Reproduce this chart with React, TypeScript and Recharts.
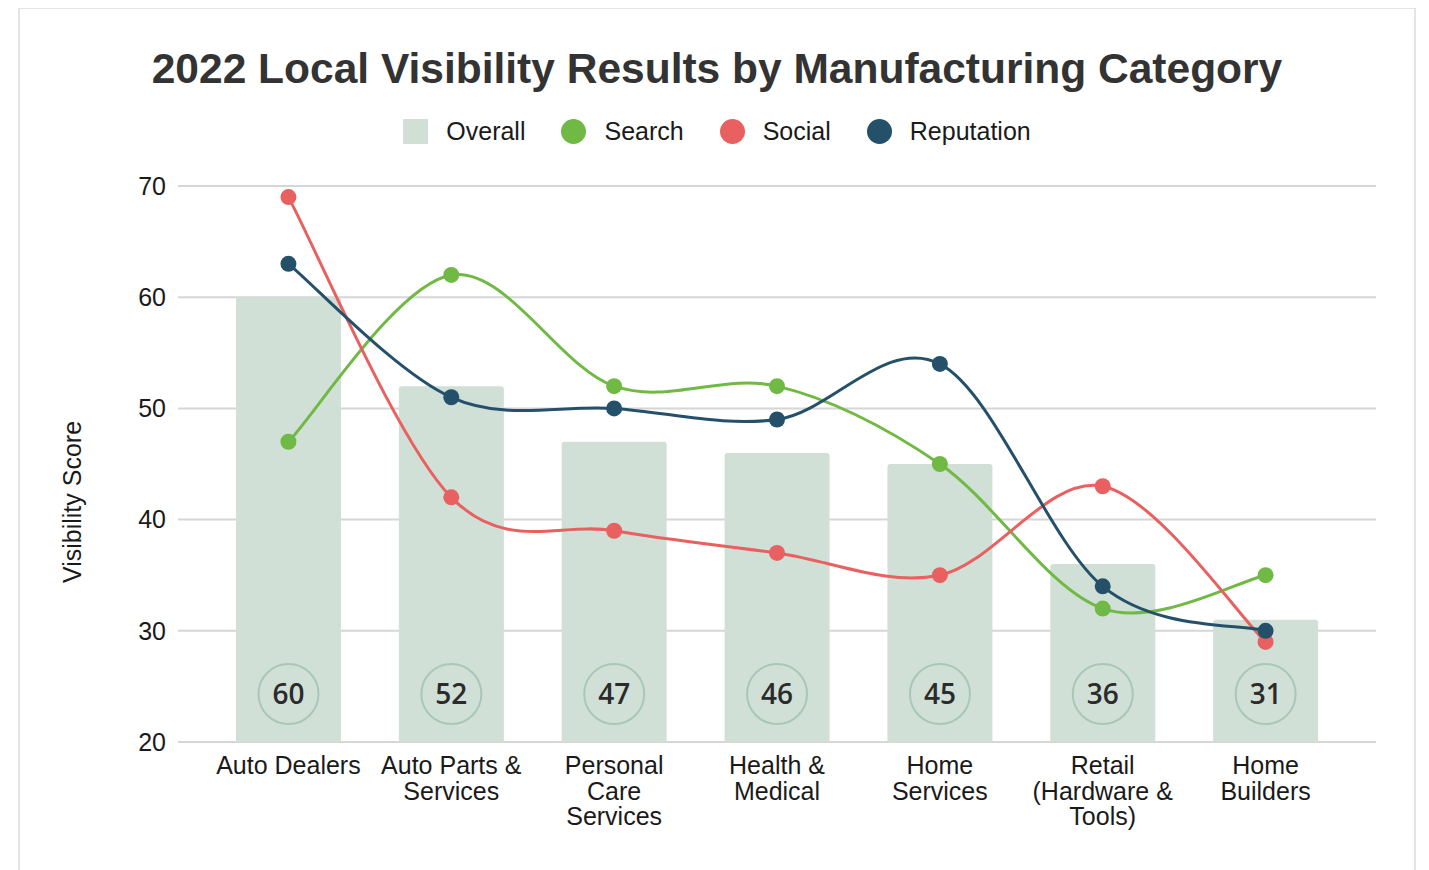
import {
  ComposedChart,
  Bar,
  Line,
  XAxis,
  YAxis,
  CartesianGrid,
  LabelList,
} from "recharts";

const categories = [
  "Auto Dealers",
  "Auto Parts &\nServices",
  "Personal\nCare\nServices",
  "Health &\nMedical",
  "Home\nServices",
  "Retail\n(Hardware &\nTools)",
  "Home\nBuilders",
];
const overall = [60, 52, 47, 46, 45, 36, 31];
const search = [47, 62, 52, 52, 45, 32, 35];
const social = [69, 42, 39, 37, 35, 43, 29];
const reputation = [63, 51, 50, 49, 54, 34, 30];
const yTicks = [20, 30, 40, 50, 60, 70];

const data = categories.map((name, i) => ({
  name,
  overall: overall[i],
  search: search[i],
  social: social[i],
  reputation: reputation[i],
}));

const FONT = "'Liberation Sans', Arial, sans-serif";
const BAR = "#d1e0d7";
const GREEN = "#70b944";
const RED = "#e8605f";
const NAVY = "#25506a";

const legendItems = [
  { label: "Overall", color: BAR, square: true },
  { label: "Search", color: GREEN },
  { label: "Social", color: RED },
  { label: "Reputation", color: NAVY },
];

// catmull-rom style smoothing, passes through every point
const smoothCurve = (context: any) => {
  let pts: number[][] = [];
  return {
    areaStart() {},
    areaEnd() {},
    lineStart() {
      pts = [];
    },
    point(x: number, y: number) {
      pts.push([+x, +y]);
    },
    lineEnd() {
      if (!pts.length) return;
      context.moveTo(pts[0][0], pts[0][1]);
      for (let i = 0; i < pts.length - 1; i++) {
        const p0 = pts[i - 1] || pts[i];
        const p1 = pts[i];
        const p2 = pts[i + 1];
        const p3 = pts[i + 2] || p2;
        context.bezierCurveTo(
          p1[0] + (p2[0] - p0[0]) / 6,
          p1[1] + (p2[1] - p0[1]) / 6,
          p2[0] - (p3[0] - p1[0]) / 6,
          p2[1] - (p3[1] - p1[1]) / 6,
          p2[0],
          p2[1]
        );
      }
    },
  };
};

const CategoryTick = (props: any) => {
  const { x, y, payload } = props;
  const lines = String(payload.value).split("\n");
  return (
    <text
      x={x}
      y={y}
      textAnchor="middle"
      fill="#1a1a1a"
      fontSize={25}
      fontFamily={FONT}
    >
      {lines.map((l, i) => (
        <tspan key={i} x={x} dy={i === 0 ? 32 : 25.5}>
          {l}
        </tspan>
      ))}
    </text>
  );
};

const BadgeLabel = (props: any) => {
  const { x, y, width, height, value } = props;
  const cx = x + width / 2;
  const cy = y + height - 48;
  return (
    <g>
      <circle cx={cx} cy={cy} r={30} fill="none" stroke="#a9c7b6" strokeWidth={2} />
      <text
        x={cx}
        y={cy + 10}
        textAnchor="middle"
        fontSize={28}
        fontWeight={600}
        fontFamily="'Open Sans', sans-serif"
        fill="#2b2b2b"
      >
        {value}
      </text>
    </g>
  );
};

const AxisTitle = (props: any) => {
  const { viewBox } = props;
  const x = viewBox.x + 33;
  const y = viewBox.y + viewBox.height / 2 + 38;
  return (
    <text
      x={x}
      y={y}
      transform={`rotate(-90, ${x}, ${y})`}
      textAnchor="middle"
      fontSize={25}
      fontFamily={FONT}
      fill="#1a1a1a"
    >
      Visibility Score
    </text>
  );
};

export default function App() {
  return (
    <div style={{ position: "relative", width: 1413, height: 862 }}>
      <div
        style={{
          position: "absolute",
          left: 10,
          top: -1,
          width: 1398,
          height: 900,
          border: "2px solid #e4e4e4",
          boxSizing: "border-box",
          background: "#fff",
          overflow: "hidden",
        }}
      >
        <div
          style={{
            position: "absolute",
            left: 0,
            right: 0,
            top: 36,
            textAlign: "center",
            fontFamily: FONT,
            fontWeight: 700,
            fontSize: 42.5,
            color: "#333",
            lineHeight: "48px",
          }}
        >
          2022 Local Visibility Results by Manufacturing Category
        </div>
        <div
          style={{
            position: "absolute",
            left: 0,
            right: 0,
            top: 108,
            display: "flex",
            justifyContent: "center",
            alignItems: "center",
            fontFamily: FONT,
            fontSize: 25,
            color: "#1a1a1a",
            gap: 36,
          }}
        >
          {legendItems.map((it) => (
            <div key={it.label} style={{ display: "flex", alignItems: "center", gap: 18 }}>
              <span
                style={{
                  display: "inline-block",
                  width: 25,
                  height: 25,
                  background: it.color,
                  borderRadius: it.square ? 1 : "50%",
                }}
              />
              <span>{it.label}</span>
            </div>
          ))}
        </div>
        <div style={{ position: "absolute", left: 0, top: 0 }}>
          <ComposedChart
            width={1394}
            height={870}
            data={data}
            margin={{ top: 177, right: 38, bottom: 37, left: 28 }}
          >
            <CartesianGrid vertical={false} stroke="#d6d6d6" strokeWidth={2} />
            <XAxis
              dataKey="name"
              axisLine={false}
              tickLine={false}
              tickSize={0}
              tickMargin={0}
              height={100}
              interval={0}
              padding={{ left: 29, right: 29 }}
              tick={<CategoryTick />}
            />
            <YAxis
              domain={[20, 70]}
              ticks={yTicks}
              axisLine={false}
              tickLine={false}
              tickSize={0}
              tickMargin={12}
              width={130}
              tick={{ fontSize: 25, fill: "#1a1a1a", fontFamily: FONT }}
              label={<AxisTitle />}
            />
            <Bar dataKey="overall" fill={BAR} barSize={105} radius={[3, 3, 0, 0]} isAnimationActive={false}>
              <LabelList dataKey="overall" content={<BadgeLabel />} />
            </Bar>
            <Line
              type={smoothCurve as any}
              dataKey="search"
              stroke={GREEN}
              strokeWidth={3}
              dot={{ r: 8, fill: GREEN, stroke: "none" }}
              isAnimationActive={false}
            />
            <Line
              type={smoothCurve as any}
              dataKey="social"
              stroke={RED}
              strokeWidth={3}
              dot={{ r: 8, fill: RED, stroke: "none" }}
              isAnimationActive={false}
            />
            <Line
              type={smoothCurve as any}
              dataKey="reputation"
              stroke={NAVY}
              strokeWidth={3}
              dot={{ r: 8, fill: NAVY, stroke: "none" }}
              isAnimationActive={false}
            />
          </ComposedChart>
        </div>
      </div>
    </div>
  );
}
